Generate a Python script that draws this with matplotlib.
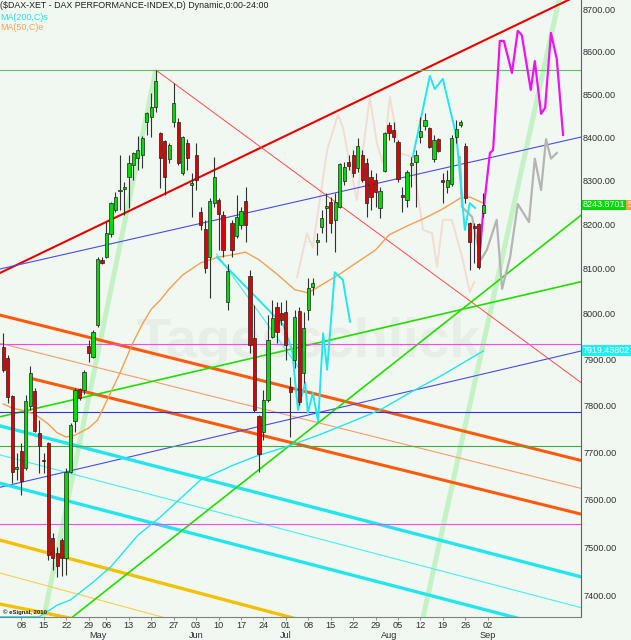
import numpy as np
import pandas as pd
import matplotlib
matplotlib.use('Agg')
import matplotlib.pyplot as plt
import matplotlib.transforms as mtransforms
from matplotlib.ticker import FixedLocator, NullLocator

plt.rcParams['font.family'] = ['Liberation Sans', 'DejaVu Sans']

# ---------------- data ----------------
dates = pd.bdate_range('2013-04-02', '2013-10-04')
dates = dates[dates != pd.Timestamp('2013-05-01')]

opens = [7927, 7903, 7820, 7664, 7702, 7666, 7798, 7831, 7741, 7683,
         7719, 7519, 7488, 7515, 7478, 7658, 7766, 7835, 7833, 7929,
         7905, 7975, 8119, 8126, 8178, 8233, 8276, 8281, 8308, 8336,
         8352, 8359, 8435, 8447, 8470, 8409, 8391, 8350, 8435, 8435,
         8317, 8386, 8290, 8359, 8228, 8189, 8126, 8249, 8255, 8220,
         8026, 8203, 8173, 8198, 8253, 8084, 7946, 7776, 7743, 7811,
         7949, 8015, 8001, 8004, 7840, 7898, 8006, 7870, 8008, 8059,
         8160, 8194, 8237, 8251, 8210, 8239, 8299, 8343, 8359, 8329,
         8359, 8340, 8308, 8301, 8237, 8322, 8428, 8416, 8388, 8267,
         8255, 8336, 8343, 8400, 8426, 8421, 8350, 8395, 8301, 8285,
         8292, 8400, 8428, 8379, 8203, 8196, 8201, 8226]
highs = [7957, 7909, 7822, 7698, 7719, 7822, 7885, 7838, 7769, 7698,
         7721, 7530, 7500, 7519, 7666, 7762, 7838, 7838, 7877, 7942,
         7964, 8126, 8126, 8205, 8251, 8274, 8359, 8296, 8359, 8366,
         8402, 8402, 8458, 8503, 8557, 8412, 8393, 8386, 8526, 8444,
         8402, 8395, 8317, 8386, 8239, 8210, 8260, 8354, 8260, 8230,
         8111, 8210, 8267, 8239, 8285, 8097, 8020, 7780, 7833, 7997,
         8030, 8026, 8026, 8030, 7862, 8008, 8015, 8004, 8079, 8079,
         8180, 8233, 8271, 8262, 8271, 8340, 8343, 8359, 8370, 8398,
         8370, 8352, 8324, 8317, 8285, 8412, 8435, 8435, 8393, 8285,
         8324, 8354, 8370, 8447, 8456, 8423, 8405, 8398, 8317, 8324,
         8405, 8440, 8440, 8386, 8205, 8203, 8203, 8271]
lows = [7872, 7805, 7634, 7641, 7609, 7662, 7790, 7743, 7656, 7656,
        7474, 7453, 7438, 7441, 7443, 7656, 7743, 7811, 7825, 7894,
        7903, 7971, 8111, 8124, 8171, 8228, 8233, 8221, 8237, 8301,
        8324, 8329, 8405, 8400, 8458, 8283, 8267, 8340, 8423, 8336,
        8312, 8324, 8217, 8278, 8187, 8090, 8035, 8239, 8142, 8126,
        8008, 8126, 8169, 8190, 8160, 7913, 7786, 7658, 7726, 7807,
        7946, 7936, 7975, 7898, 7733, 7881, 7801, 7849, 7986, 8042,
        8131, 8180, 8160, 8180, 8137, 8237, 8290, 8324, 8308, 8320,
        8296, 8217, 8233, 8239, 8214, 8320, 8393, 8388, 8296, 8228,
        8239, 8285, 8239, 8386, 8416, 8374, 8343, 8366, 8249, 8271,
        8288, 8386, 8423, 8249, 8097, 8113, 8099, 8217]
closes = [7877, 7818, 7658, 7668, 7639, 7809, 7870, 7745, 7713, 7680,
          7484, 7478, 7461, 7478, 7658, 7758, 7833, 7816, 7872, 7913,
          7960, 8122, 8113, 8180, 8249, 8262, 8279, 8285, 8340, 8363,
          8370, 8398, 8456, 8470, 8531, 8352, 8308, 8382, 8479, 8340,
          8400, 8352, 8294, 8301, 8198, 8102, 8253, 8308, 8223, 8142,
          8095, 8142, 8217, 8230, 8198, 7931, 7790, 7696, 7811, 7942,
          7990, 7960, 7986, 7931, 7829, 7993, 7807, 7969, 8057, 8068,
          8164, 8214, 8241, 8203, 8251, 8338, 8331, 8333, 8317, 8379,
          8301, 8249, 8262, 8274, 8276, 8409, 8409, 8400, 8303, 8262,
          8320, 8340, 8359, 8414, 8440, 8377, 8393, 8368, 8296, 8301,
          8398, 8419, 8435, 8260, 8160, 8192, 8104, 8244]

ma50_day = [0, 2, 4, 7, 10, 12, 14, 16, 19, 21, 24, 26, 29, 31, 33, 35, 37, 40, 44,
            48, 51, 54, 57, 61, 65, 68, 71, 75, 79, 83, 86, 90, 94, 98, 102, 104, 107]
ma50_val = [7803, 7794, 7790, 7781, 7760, 7741, 7732, 7736, 7751, 7768, 7829, 7870,
            7938, 7977, 8010, 8030, 8055, 8086, 8113, 8126, 8131, 8137, 8120, 8088,
            8053, 8046, 8064, 8088, 8115, 8142, 8176, 8196, 8214, 8235, 8260, 8262, 8248]

ma200_day = [-1, 4, 8, 12, 15, 20, 24, 30, 35, 44, 51, 56, 63, 70, 77, 84, 91, 98, 107]
ma200_val = [7290, 7320, 7357, 7381, 7392, 7428, 7460, 7525, 7563, 7641, 7671, 7690,
             7711, 7735, 7762, 7790, 7829, 7866, 7918]

# projection / analogue paths
magenta_day = [106.0, 106.9, 108.5, 109.2, 110.0, 110.7, 111.6, 113.4, 114.7, 115.6,
               117.6, 118.5, 119.9, 120.8, 122.1, 123.4, 124.8]
magenta_val = [8104, 8217, 8363, 8370, 8503, 8626, 8626, 8550, 8650, 8640,
               8510, 8578, 8454, 8468, 8645, 8583, 8405]
gray_day = [101.8, 102.3, 104.5, 106.5, 107.8, 110.0, 111.2, 113.0, 114.7, 117.2,
            118.5, 119.9, 121.0, 122.1, 123.4]
gray_val = [8354, 8239, 8217, 8120, 8142, 8210, 8055, 8126, 8246, 8205,
            8350, 8278, 8395, 8350, 8363]
pink_day = [65.5, 67.7, 69.0, 72.2, 74.6, 75.7, 78.8, 81.7, 83.3, 84.6, 86.2, 88.4,
            91.1, 93.6, 95.6, 96.7, 98.0, 100.0, 102.3, 104.0, 105.0]
pink_val = [8081, 8180, 8148, 8370, 8452, 8423, 8255, 8493, 8386, 8340, 8493, 8363,
            8354, 8187, 8180, 8104, 8210, 8210, 8126, 8048, 8070]
cyan1_day = [47.6, 62.4, 64.4, 65.7, 67.3, 67.9, 69.0, 70.2, 71.3, 72.2, 73.9, 75.7, 77.3]
cyan1_val = [8126, 7975, 7919, 7790, 7849, 7784, 7827, 7765, 7957, 7877, 8092, 8075, 7982]
cyan2_day = [91.3, 95.1, 96.2, 98.0, 100.7, 101.1, 102.9, 104.0, 105.2]
cyan2_val = [8354, 8543, 8512, 8536, 8416, 8393, 8187, 8248, 8237]

# trend lines: two anchor points (day, price) each, and drawn span
trend_a_day = [0, 0, 34, 34, 102, 0, 0, 0, 0, 0, 0, 0, 0, 0, 0, 17.1, 0, 48.5]
trend_a_val = [8094, 8101, 8557, 8557, 7713, 7995, 7933, 7873, 7627, 7754, 7632, 7692,
               7513, 7382, 7445, 7369, 7777, 8120]
trend_b_day = [120, 128, 128, 14, 123, 128, 128, 128, 128, 128, 110.7, 128,
               61.7, 12.6, 35, 128, 128, 66]
trend_b_val = [8693, 8398, 7855, 7581, 8681, 7684, 7625, 7571, 7916, 7441, 7364, 7378,
               7362, 7359, 7358, 8214, 8069, 7880]
trend_from = [-1, -1, 34, 8, 93, -1, -1, 6, -1, -1, -1, -1, -1, -1, -1, 15, -1, 47.5]
trend_to = [131, 131, 131, 34, 124.5, 131, 131, 131, 131, 131, 116, 131, 66, 15, 40, 131, 131, 66]
trend_style = [('#e80000', 1.5), ('#4a4ae6', 0.8), ('#ff4a4a', 0.7), ('#c4f2c4', 3.6),
               ('#c4f2c4', 3.6), ('#ff5a0a', 2.2), ('#ff9a6a', 0.8), ('#ff5a0a', 2.2),
               ('#4a4ae6', 0.8), ('#22e6ee', 2.4), ('#22e6ee', 2.4), ('#44f0f0', 0.8),
               ('#f5c000', 2.4), ('#f5c000', 2.4), ('#f5d050', 0.8), ('#22dd00', 1.2),
               ('#22dd00', 1.2), ('#44f0f0', 0.8)]

hlines_val = [8557, 7933, 7786, 7713, 7549]
hlines_style = [('#66bb66', 0.8), ('#ff44ff', 0.8), ('#3232dd', 0.8), ('#44aa44', 0.8),
                ('#ff44ff', 0.8)]

yticks = [7400, 7500, 7600, 7700, 7800, 7900, 8000, 8100, 8200, 8300, 8400, 8500, 8600, 8700]
last_close_label = 8243.8701
ma200_label = 7919.43802

# ---------------- figure ----------------
BG = '#f1f8f1'
fig = plt.figure(figsize=(6.31, 6.40), dpi=100, facecolor=BG)
ax = fig.add_axes([0.0, 1 - 617 / 640, 581 / 631, 617 / 640], facecolor=BG)
ax.set_yscale('log')
ylo, yhi = 7357, 8724
ax.set_ylim(ylo, yhi)
ax.set_xlim(-0.74, 128.8)

# watermark
ax.text(68, 7935, 'Tagesschlick', fontsize=40, fontweight='bold', color='#e7eee7',
        ha='center', va='center', zorder=0.5)


def geo_line(a_d, a_v, b_d, b_v, d0, d1):
    k = np.log(b_v / a_v) / (b_d - a_d)
    xs = np.array([d0, d1])
    return xs, a_v * np.exp(k * (xs - a_d))


for i in range(len(trend_a_day)):
    xs, ys = geo_line(trend_a_day[i], trend_a_val[i], trend_b_day[i], trend_b_val[i],
                      trend_from[i], trend_to[i])
    c, lw = trend_style[i]
    z = 1 if i in (3, 4) else 2
    ax.plot(xs, ys, color=c, lw=lw, zorder=z, solid_capstyle='butt')

for v, (c, lw) in zip(hlines_val, hlines_style):
    ax.axhline(v, color=c, lw=lw, zorder=2)

# moving averages
ax.plot(ma200_day, np.maximum(ma200_val, ylo + 0.5), color='#22e6ee', lw=1.0, zorder=3)
ax.plot(ma50_day, ma50_val, color='#f5a050', lw=1.0, zorder=3)

# projection paths
ax.plot(pink_day, pink_val, color='#f2dcd4', lw=1.4, zorder=1.5)
ax.plot(gray_day, gray_val, color='#b4b4b4', lw=1.6, zorder=3)
ax.plot(magenta_day, magenta_val, color='#f010f0', lw=1.6, zorder=3)
ax.plot(cyan1_day, cyan1_val, color='#22e6ee', lw=1.4, zorder=3)
ax.plot(cyan2_day, cyan2_val, color='#22e6ee', lw=1.4, zorder=3)

# candles
idx = np.arange(len(closes))
o = np.array(opens, float); c_ = np.array(closes, float)
h = np.array(highs, float); l = np.array(lows, float)
ax.vlines(idx, l, h, color='#303030', lw=0.8, zorder=4)
up = c_ >= o
bot = np.minimum(o, c_)
hei = np.maximum(np.abs(c_ - o), 2.0)
ax.bar(idx[up], hei[up], bottom=bot[up], width=0.72, color='#00dc00',
       edgecolor='#202020', lw=0.5, zorder=5)
ax.bar(idx[~up], hei[~up], bottom=bot[~up], width=0.72, color='#e00000',
       edgecolor='#202020', lw=0.5, zorder=5)

# axes styling
for s in ('left', 'top'):
    ax.spines[s].set_visible(False)
ax.spines['right'].set_color('#606060')
ax.spines['bottom'].set_color('#808080')
ax.yaxis.tick_right()
ax.yaxis.set_major_locator(FixedLocator(yticks))
ax.yaxis.set_minor_locator(NullLocator())
ax.set_yticklabels([f'{t:.2f}' for t in yticks])
ax.tick_params(axis='y', length=0, pad=1.5, labelsize=6.6, labelcolor='#303030')

mondays = [i for i, d in enumerate(dates) if d.weekday() == 0
           and pd.Timestamp('2013-04-08') <= d <= pd.Timestamp('2013-09-02')]
ax.set_xticks(mondays)
ax.set_xticklabels([dates[i].strftime('%d') for i in mondays])
ax.tick_params(axis='x', length=2, width=0.6, color='#808080', pad=1.2,
               labelsize=6.6, labelcolor='#303030')
xtr = ax.get_xaxis_transform()
for m in (5, 6, 7, 8, 9):
    first = [i for i, d in enumerate(dates) if d.month == m][0]
    ax.text(first, -18 / 617, dates[first].strftime('%b'), transform=xtr,
            ha='center', va='center', fontsize=6.6, color='#303030', clip_on=False)

# right-side value labels
ytr = mtransforms.blended_transform_factory(ax.transAxes, ax.transData)
ax.text(1.003, last_close_label, f'{last_close_label:.4f}', transform=ytr,
        ha='left', va='center', fontsize=6.4, color='white', clip_on=False, zorder=10,
        bbox=dict(boxstyle='square,pad=0.1', fc='#00dc00', ec='none'))
ax.text(1.0795, last_close_label, '5', transform=ytr, ha='left', va='center',
        fontsize=6.4, color='white', clip_on=False, zorder=9,
        bbox=dict(boxstyle='square,pad=0.1', fc='#f5a050', ec='none'))
ax.text(1.003, ma200_label, f'{ma200_label:.5f}', transform=ytr,
        ha='left', va='center', fontsize=6.4, color='white', clip_on=False, zorder=10,
        bbox=dict(boxstyle='square,pad=0.1', fc='#22f0f0', ec='none'))

# header texts
fig.text(0.0, 1 - 6 / 640, '($DAX-XET - DAX PERFORMANCE-INDEX,D) Dynamic,0:00-24:00',
         ha='left', va='center', fontsize=6.4, color='#202020')
fig.text(0.0, 1 - 17 / 640, 'MA(200,C)s', ha='left', va='center', fontsize=6.4,
         color='#22e0e8')
fig.text(0.0, 1 - 28 / 640, 'MA(50,C)e', ha='left', va='center', fontsize=6.4,
         color='#f5a050')
fig.text(3 / 631, 1 - 612 / 640, '\u00a9 eSignal, 2010', ha='left', va='center',
         fontsize=4.3, fontweight='bold', color='#202020')

fig.savefig('out.png', dpi=100, facecolor=BG)
